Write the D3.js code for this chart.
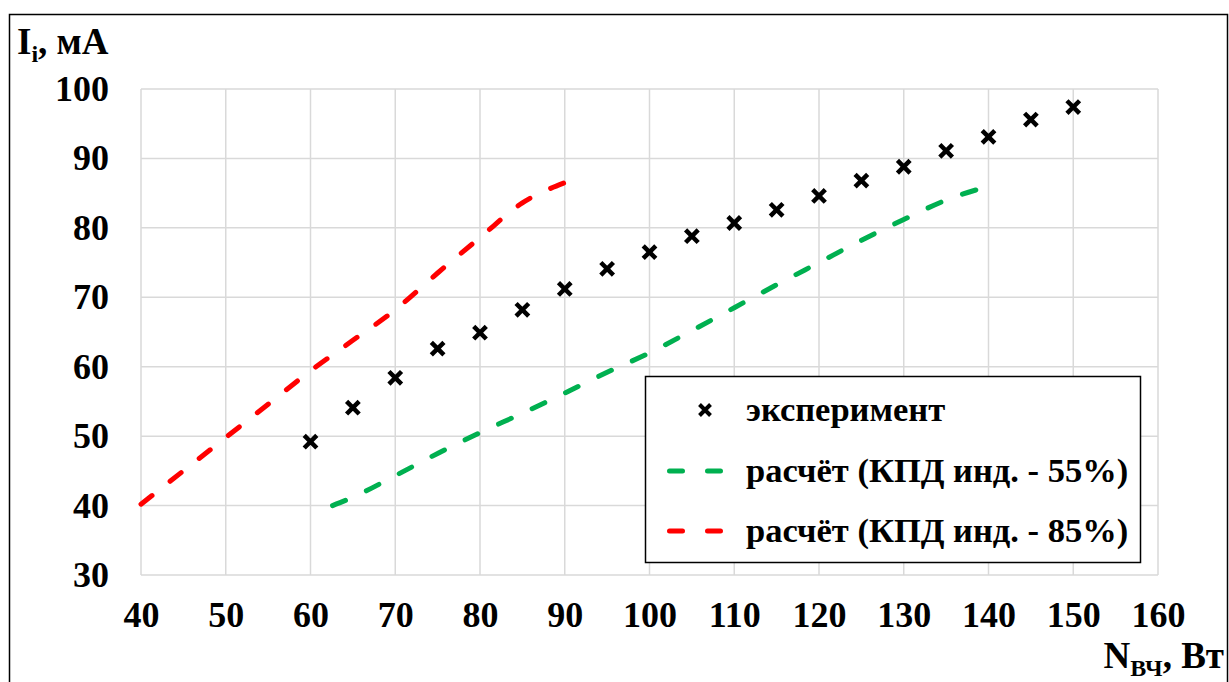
<!DOCTYPE html>
<html>
<head>
<meta charset="utf-8">
<script src="https://cdn.jsdelivr.net/npm/d3@7"></script>
<style>
  body { margin: 0; background: #fff; }
</style>
</head>
<body>
<div id="chart"></div>
<script>
// данные
const xTicks = [40, 50, 60, 70, 80, 90, 100, 110, 120, 130, 140, 150, 160];
const yTicks = [30, 40, 50, 60, 70, 80, 90, 100];

const expN = [60, 65, 70, 75, 80, 85, 90, 95, 100, 105, 110, 115, 120, 125, 130, 135, 140, 145, 150];
const expI = [49.2, 54.1, 58.4, 62.6, 64.9, 68.2, 71.2, 74.1, 76.5, 78.8, 80.7, 82.6, 84.6, 86.8, 88.8, 91.1, 93.1, 95.6, 97.4];

const calc55N = [62.6, 65, 70, 75, 80, 85, 90, 95, 100, 105, 110, 115, 120, 125, 130, 135, 140];
const calc55I = [40, 41.2, 44.3, 47.5, 50.5, 53.3, 56.2, 59.2, 62, 65.2, 68.5, 71.8, 75, 78.2, 81.2, 84, 86];

const calc85N = [40, 45, 50, 55, 60, 65, 70, 75, 80, 85, 90];
const calc85I = [40.2, 45, 49.8, 54.6, 59.4, 63.8, 68.2, 73.5, 78.6, 83.6, 86.5];

const legendLabels = ["эксперимент", "расчёт (КПД инд. - 55%)", "расчёт (КПД инд. - 85%)"];

const width = 1229, height = 682;
const plotL = 141, plotR = 1158, plotT = 89, plotB = 575;
const serif = "Liberation Serif";

const svg = d3.select("#chart").append("svg")
    .attr("width", width)
    .attr("height", height);

// рамка
svg.append("rect")
    .attr("x", 9.5).attr("y", 14.5)
    .attr("width", 1218).attr("height", 700)
    .attr("fill", "none").attr("stroke", "#000").attr("stroke-width", 1.5);

const x = d3.scaleLinear().domain([40, 160]).range([plotL, plotR]);
const y = d3.scaleLinear().domain([30, 100]).range([plotB, plotT]);

// сетка
svg.append("g").selectAll("line").data(xTicks).enter().append("line")
    .attr("x1", d => x(d)).attr("x2", d => x(d))
    .attr("y1", plotT).attr("y2", plotB)
    .attr("stroke", "#d9d9d9").attr("stroke-width", 1.5);
svg.append("g").selectAll("line").data(yTicks).enter().append("line")
    .attr("x1", plotL).attr("x2", plotR)
    .attr("y1", d => y(d)).attr("y2", d => y(d))
    .attr("stroke", "#d9d9d9").attr("stroke-width", 1.5);

// оси (подписи)
const xAxis = svg.append("g")
    .attr("transform", `translate(0,${plotB})`)
    .call(d3.axisBottom(x).tickValues(xTicks).tickSize(0).tickPadding(52));
const yAxis = svg.append("g")
    .attr("transform", `translate(${plotL},0)`)
    .call(d3.axisLeft(y).tickValues(yTicks).tickSize(0).tickPadding(32));
[xAxis, yAxis].forEach(a => {
    a.attr("font-family", serif).attr("font-size", 36).attr("font-weight", "bold");
    a.select(".domain").remove();
    a.selectAll("text").attr("fill", "#000");
});
xAxis.selectAll("text").attr("dy", "0");

// линии расчёта
const line = d3.line().x(d => x(d[0])).y(d => y(d[1])).curve(d3.curveMonotoneX);
const dash = "14,23";

svg.append("path")
    .datum(calc55N.map((n, i) => [n, calc55I[i]]))
    .attr("d", line)
    .attr("fill", "none").attr("stroke", "#00b050").attr("stroke-width", 5)
    .attr("stroke-linecap", "round").attr("stroke-dasharray", dash);

svg.append("path")
    .datum(calc85N.map((n, i) => [n, calc85I[i]]))
    .attr("d", line)
    .attr("fill", "none").attr("stroke", "#ff0000").attr("stroke-width", 5)
    .attr("stroke-linecap", "round").attr("stroke-dasharray", dash);

// эксперимент
const crossPath = r => `M${-r},${-r}L${r},${r}M${-r},${r}L${r},${-r}`;
svg.append("g").selectAll("path")
    .data(expN.map((n, i) => [n, expI[i]]))
    .enter().append("path")
    .attr("d", crossPath(6.3))
    .attr("transform", d => `translate(${x(d[0])},${y(d[1])})`)
    .attr("fill", "none").attr("stroke", "#000").attr("stroke-width", 4.5);

// легенда
const lg = svg.append("g");
lg.append("rect")
    .attr("x", 645.5).attr("y", 376.5)
    .attr("width", 495).attr("height", 186)
    .attr("fill", "#fff").attr("stroke", "#000").attr("stroke-width", 1.5);

const rowsY = [410, 471, 531];
lg.append("path")
    .attr("d", crossPath(5.5))
    .attr("transform", `translate(705,${rowsY[0]})`)
    .attr("fill", "none").attr("stroke", "#000").attr("stroke-width", 4);
[["#00b050", rowsY[1]], ["#ff0000", rowsY[2]]].forEach(([c, yy]) => {
    lg.append("line")
        .attr("x1", 669.5).attr("x2", 722).attr("y1", yy).attr("y2", yy)
        .attr("stroke", c).attr("stroke-width", 5)
        .attr("stroke-linecap", "round").attr("stroke-dasharray", "13,25");
});
lg.selectAll("text.lbl").data(legendLabels).enter().append("text")
    .attr("class", "lbl")
    .attr("x", 746).attr("y", (d, i) => rowsY[i] + 11)
    .attr("font-family", serif).attr("font-weight", "bold").attr("font-size", 34.5)
    .text(d => d);

// подписи осей
const yt = svg.append("text").attr("x", 17).attr("y", 54)
    .attr("font-family", serif).attr("font-weight", "bold").attr("font-size", 37);
yt.append("tspan").text("I");
yt.append("tspan").attr("dy", 8).attr("font-size", 24).text("i");
yt.append("tspan").attr("dy", -8).text(", мА");

const xt = svg.append("text").attr("x", 1224).attr("y", 668)
    .attr("text-anchor", "end")
    .attr("font-family", serif).attr("font-weight", "bold").attr("font-size", 37);
xt.append("tspan").text("N");
xt.append("tspan").attr("dy", 8).attr("font-size", 24).text("ВЧ");
xt.append("tspan").attr("dy", -8).text(", Вт");
</script>
</body>
</html>
